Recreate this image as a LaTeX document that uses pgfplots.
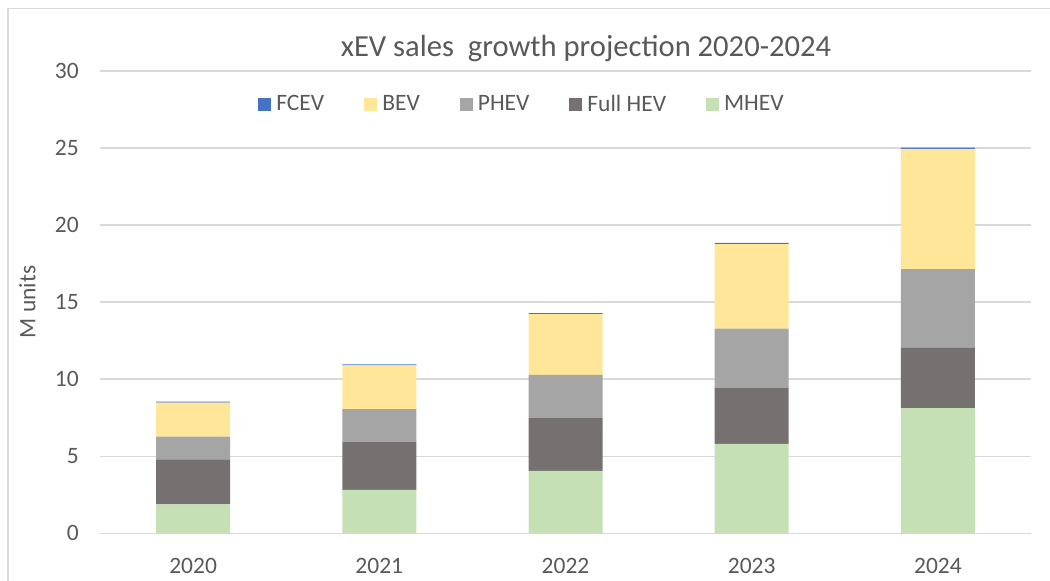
\documentclass[border=0pt]{standalone}
\usepackage{pgfplots}
\pgfplotsset{compat=1.18}
\usepackage{fontspec}
\setmainfont{Carlito}
\definecolor{txt}{HTML}{595959}
\definecolor{gridc}{HTML}{D9D9D9}
\definecolor{cmhev}{HTML}{C5E0B4}
\definecolor{cfull}{HTML}{767171}
\definecolor{cphev}{HTML}{A5A5A5}
\definecolor{cbev}{HTML}{FFE699}
\definecolor{cfcev}{HTML}{4472C4}
\begin{document}
\begin{tikzpicture}
\path[use as bounding box] (-100pt,-47.7pt) rectangle (950pt,533.3pt);
\draw[gridc, line width=1.5pt] (-92pt,-60pt) -- (-92pt,525pt) -- (960pt,525pt);
\begin{axis}[
  at={(0pt,0pt)}, anchor=south west,
  scale only axis, width=931pt, height=462.3pt,
  ybar stacked, bar width=74pt,
  xmin=-0.5, xmax=4.5, ymin=0, ymax=30,
  xtick=data, xticklabels={2020,2021,2022,2023,2024},
  ytick={0,5,...,30},
  major tick length=0pt,
  axis line style={draw=none},
  ymajorgrids, grid style={gridc, line width=1.4pt},
  /pgf/number format/assume math mode=true,
  tick label style={font=\fontsize{23.5pt}{26pt}\selectfont, text=txt, inner sep=0pt},
  xticklabel style={anchor=base, yshift=-40pt},
  yticklabel style={anchor=east, xshift=-21pt},
  reverse legend,
  legend columns=5,
  legend style={at={(axis description cs:0.4533,0.9286)}, anchor=center, draw=none, fill=none,
    font=\fontsize{23.5pt}{26pt}\selectfont, text=txt,
    /tikz/every odd column/.append style={column sep=3pt},
    /tikz/every even column/.append style={column sep=38pt}},
  legend image code/.code={\fill[#1] (0pt,-6.5pt) rectangle (13pt,6.5pt);},
]
\addplot[fill=cmhev, draw=none] coordinates {(0,1.88) (1,2.81) (2,4.05) (3,5.80) (4,8.12)};
\addplot[fill=cfull, draw=none] coordinates {(0,2.92) (1,3.14) (2,3.42) (3,3.65) (4,3.91)};
\addplot[fill=cphev, draw=none] coordinates {(0,1.47) (1,2.10) (2,2.81) (3,3.84) (4,5.11)};
\addplot[fill=cbev, draw=none] coordinates {(0,2.21) (1,2.85) (2,3.94) (3,5.48) (4,7.80)};
\addplot[fill=cfcev, draw=none] coordinates {(0,0.07) (1,0.07) (2,0.07) (3,0.08) (4,0.08)};
\legend{MHEV,Full HEV,PHEV,BEV,FCEV}
\end{axis}
\node[anchor=base, text=txt, font=\fontsize{30.6pt}{34pt}\selectfont, inner sep=0pt] at (486pt,476.3pt) {xEV sales\ \ growth projection 2020-2024};
\node[rotate=90, anchor=center, text=txt, font=\fontsize{23.5pt}{26pt}\selectfont, inner sep=0pt] at (-72.5pt,231.3pt) {M units};
\end{tikzpicture}
\end{document}
